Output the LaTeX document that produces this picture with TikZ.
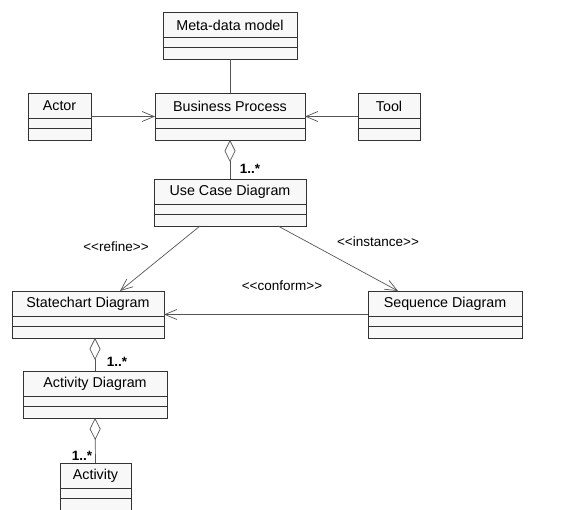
\documentclass[tikz,border=0pt]{standalone}
\usepackage{fontspec}
\setmainfont{Liberation Sans}[Ligatures=TeXOff]
\usetikzlibrary{arrows.meta}
\definecolor{boxfill}{HTML}{F8F8F8}
\definecolor{boxline}{HTML}{333333}
\definecolor{conline}{HTML}{555555}
\tikzset{
  classbox/.style={draw=boxline, fill=boxfill, line width=0.9pt, inner sep=0pt, outer sep=0pt, minimum height=47pt},
  classline/.style={draw=boxline, line width=0.7pt},
  classtext/.style={font=\fontsize{14.3}{16}\selectfont, inner sep=0pt},
  conn/.style={draw=conline, line width=0.7pt},
  openarrow/.style={-{Straight Barb[length=12pt,width=10pt,line width=0.7pt]}},
  aggr/.style={{Diamond[open,length=22pt,width=11pt,line width=0.7pt]}-},
  stereo/.style={font=\fontsize{13.5}{15}\selectfont, inner sep=0pt},
  mult/.style={font=\bfseries\fontsize{13.5}{15}\selectfont, inner sep=0pt}
}
\newcommand{\umlclass}[5]{%
  \node[classbox, minimum width=#4pt, anchor=north west] (#1) at (#2,#3) {};
  \draw[classline] ([yshift=-25pt]#1.north west) -- ([yshift=-25pt]#1.north east);
  \draw[classline] ([yshift=-35pt]#1.north west) -- ([yshift=-35pt]#1.north east);
  \node[classtext] (#1-name) at ([yshift=-13pt]#1.north) {#5};
}
\begin{document}
\begin{tikzpicture}[x=1pt,y=-1pt]
\useasboundingbox (0,0) rectangle (566,510);
\umlclass{meta}{163}{12}{134}{Meta-data model}
\umlclass{bp}{155}{93}{150}{Business Process}
\umlclass{actor}{28}{93}{63}{Actor}
\umlclass{tool}{358}{93}{62}{Tool}
\umlclass{uc}{154}{179}{152}{Use Case Diagram}
\umlclass{sc}{12}{291}{152}{Statechart Diagram}
\umlclass{sd}{368}{291}{154}{Sequence Diagram}
\umlclass{ad}{23}{371}{144}{Activity Diagram}
\umlclass{act}{60}{463}{71}{Activity}

\draw[conn] (meta.south) -- (bp.north);
\draw[conn, openarrow] (actor.east) -- (bp.west);
\draw[conn, openarrow] (tool.west) -- (bp.east);
\draw[conn, aggr] (bp.south) -- (uc.north);
\draw[conn, openarrow] ([xshift=-30pt]uc.south) -- ([xshift=32pt]sc.north);
\draw[conn, openarrow] ([xshift=48pt]uc.south) -- ([xshift=-47pt]sd.north);
\draw[conn, openarrow] (sd.west) -- (sc.east);
\draw[conn, aggr] (ad.north |- sc.south) -- (ad.north);
\draw[conn, aggr] (ad.south) -- (act.north);

\node[mult] (m1) at (250,169) {1..*};
\node[mult] (m2) at (117,362) {1..*};
\node[mult] (m3) at (82,456) {1..*};
\node[stereo] (s1) at (116,247) {<<refine>>};
\node[stereo] (s2) at (378,242) {<<instance>>};
\node[stereo] (s3) at (282,286) {<<conform>>};
\end{tikzpicture}
\end{document}
